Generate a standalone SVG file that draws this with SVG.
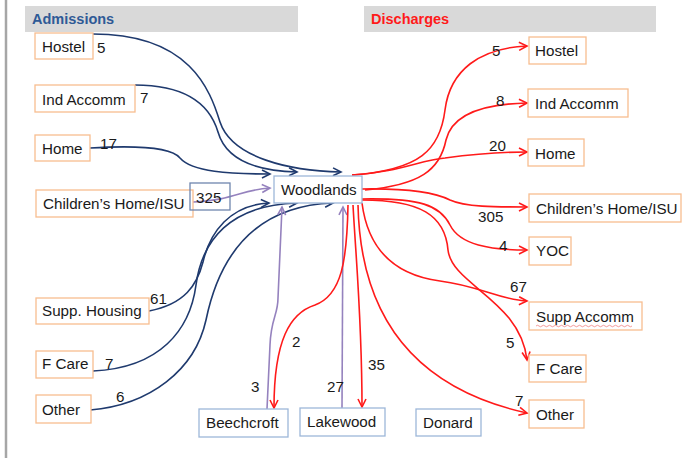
<svg xmlns="http://www.w3.org/2000/svg" width="682" height="458" viewBox="0 0 682 458">
<defs>
<marker id="aN" markerUnits="userSpaceOnUse" markerWidth="12" markerHeight="12" refX="9" refY="5" orient="auto" viewBox="0 0 12 10"><path d="M1,1 L9,5 L1,9" fill="none" stroke="#1F3A6E" stroke-width="1.6"/></marker>
<marker id="aR" markerUnits="userSpaceOnUse" markerWidth="12" markerHeight="12" refX="9" refY="5" orient="auto" viewBox="0 0 12 10"><path d="M1,1 L9,5 L1,9" fill="none" stroke="#FF1A1A" stroke-width="1.6"/></marker>
<marker id="aP" markerUnits="userSpaceOnUse" markerWidth="12" markerHeight="12" refX="9" refY="5" orient="auto" viewBox="0 0 12 10"><path d="M1,1 L9,5 L1,9" fill="none" stroke="#9582BE" stroke-width="1.6"/></marker>
</defs>
<style>
text{font-family:"Liberation Sans",Arial,sans-serif;font-size:15.2px;fill:#1a1a1a}
.hd{font-weight:bold;font-size:14.5px}
.ob{fill:#fff;stroke:#F8BE90;stroke-width:1.3}
.bb{fill:#fff;stroke:#9DB7D9;stroke-width:1.3}
.n{fill:none;stroke:#1F3A6E;stroke-width:1.6;marker-end:url(#aN)}
.r{fill:none;stroke:#FF1A1A;stroke-width:1.6;marker-end:url(#aR)}
.p{fill:none;stroke:#9582BE;stroke-width:1.6;marker-end:url(#aP)}
</style>
<rect width="682" height="458" fill="#fff"/>
<line x1="6" y1="0" x2="6" y2="458" stroke="#A6A6A6" stroke-width="2.5"/>
<g id="headers">
<rect x="25" y="6" width="273" height="26" fill="#D9D9D9"/>
<text class="hd" x="32" y="24" style="fill:#2F5A96">Admissions</text>
<rect x="364" y="6" width="292" height="26" fill="#D9D9D9"/>
<text class="hd" x="371" y="24" style="fill:#FF1A1A">Discharges</text>
</g>
<g id="connectors">
<path class="n" d="M93,34 C190,34 210,90 220,122 C232,158 290,171 341,172"/>
<path class="n" d="M135,85 C195,85 212,112 218,132 C226,160 255,171 297,172"/>
<path class="n" d="M90,148 C140,145 172,148 180,158 C192,172 230,174 270,174"/>
<path class="p" d="M193,202 C235,200 240,190 270,188"/>
<path class="n" d="M149,311 C185,304 197,285 203,262 C210,232 230,205 269,203"/>
<path class="n" d="M93,371 C160,368 190,330 196,285 C202,240 230,205 297,203"/>
<path class="n" d="M90,410 C150,405 195,370 206,320 C218,262 250,206 333,203"/>
<path class="p" d="M267,409 L270,345 C271,318 278,315 278,298 L282,207"/>
<path class="p" d="M342,408 L343,207"/>
<path class="r" d="M348,205 C347,260 342,295 315,305 C290,313 274,340 274,408"/>
<path class="r" d="M353,205 C356,260 362,320 362,407"/>
<path class="r" d="M358,205 C360,300 400,385 527,413"/>
<path class="r" d="M362,200 C420,200 445,215 448,250 C452,285 520,300 527,360"/>
<path class="r" d="M362,203 C368,250 395,275 440,281 C480,286 500,300 527,301"/>
<path class="r" d="M362,199 C420,198 440,205 450,225 C460,245 490,250 527,250"/>
<path class="r" d="M362,189 C420,188 440,195 450,200 C465,207 495,207 527,207"/>
<path class="r" d="M352,175 C400,172 420,160 445,158 C475,154 500,152 527,152"/>
<path class="r" d="M365,190 C420,185 440,170 446,140 C452,115 480,104 527,103"/>
<path class="r" d="M352,175 C420,170 440,150 445,110 C450,70 480,48 527,46"/>
</g>
<g id="n-hostel-l"><rect class="ob" x="35" y="33" width="58" height="26"/><text x="42" y="52">Hostel</text></g>
<g id="n-ind-l"><rect class="ob" x="35" y="85" width="100" height="27"/><text x="42" y="105">Ind Accomm</text></g>
<g id="n-home-l"><rect class="ob" x="35" y="135" width="55" height="26"/><text x="42" y="154">Home</text></g>
<g id="n-child-l"><rect class="ob" x="36" y="190" width="157" height="27"/><text x="43" y="209">Children’s Home/ISU</text></g>
<g id="n-325"><rect x="190" y="183" width="40" height="27" fill="none" stroke="#6F86AE" stroke-width="1.3"/><text x="196" y="203">325</text></g>
<g id="n-supp-l"><rect class="ob" x="36" y="298" width="113" height="26"/><text x="42" y="316">Supp. Housing</text></g>
<g id="n-fcare-l"><rect class="ob" x="36" y="351" width="57" height="27"/><text x="42" y="369">F Care</text></g>
<g id="n-other-l"><rect class="ob" x="36" y="395" width="55" height="28"/><text x="42" y="415">Other</text></g>
<g id="n-woodlands"><rect class="bb" x="274" y="176" width="88" height="27"/><text x="281" y="195">Woodlands</text></g>
<g id="n-beechcroft"><rect class="bb" x="199" y="409" width="89" height="28"/><text x="206" y="428">Beechcroft</text></g>
<g id="n-lakewood"><rect class="bb" x="300" y="408" width="85" height="28"/><text x="307" y="427">Lakewood</text></g>
<g id="n-donard"><rect class="bb" x="416" y="409" width="65" height="27"/><text x="423" y="428">Donard</text></g>
<g id="n-hostel-r"><rect class="ob" x="529" y="37" width="57" height="27"/><text x="535" y="56">Hostel</text></g>
<g id="n-ind-r"><rect class="ob" x="528" y="89" width="100" height="28"/><text x="535" y="109">Ind Accomm</text></g>
<g id="n-home-r"><rect class="ob" x="528" y="139" width="56" height="27"/><text x="535" y="159">Home</text></g>
<g id="n-child-r"><rect class="ob" x="529" y="194" width="152" height="28"/><text x="536" y="214">Children’s Home/ISU</text></g>
<g id="n-yoc"><rect class="ob" x="529" y="237" width="42" height="28"/><text x="536" y="256">YOC</text></g>
<g id="n-supp-r"><rect class="ob" x="529" y="302" width="113" height="28"/><text x="536" y="322">Supp Accomm</text><path d="M536,326 q1.5,-1.5 3,0 t3,0 t3,0 t3,0 t3,0 t3,0 t3,0 t3,0 t3,0 t3,0 t3,0 t3,0 t3,0 t3,0 t3,0 t3,0 t3,0 t3,0 t3,0 t3,0 t3,0 t3,0 t3,0 t3,0 t3,0 t3,0 t3,0 t3,0 t3,0 t3,0 t3,0 t3,0" fill="none" stroke="#F08080" stroke-width="0.8"/></g>
<g id="n-fcare-r"><rect class="ob" x="529" y="355" width="57" height="27"/><text x="536" y="374">F Care</text></g>
<g id="n-other-r"><rect class="ob" x="529" y="400" width="55" height="28"/><text x="536" y="420">Other</text></g>
<g id="labels">
<text x="97" y="53">5</text>
<text x="140" y="103">7</text>
<text x="100" y="149">17</text>
<text x="150" y="304">61</text>
<text x="105" y="369">7</text>
<text x="116" y="402">6</text>
<text x="251" y="392">3</text>
<text x="292" y="347">2</text>
<text x="327" y="392">27</text>
<text x="368" y="370">35</text>
<text x="492" y="56">5</text>
<text x="496" y="106">8</text>
<text x="489" y="151">20</text>
<text x="478" y="222">305</text>
<text x="499" y="251">4</text>
<text x="510" y="292">67</text>
<text x="506" y="348">5</text>
<text x="515" y="406">7</text>
</g>
</svg>
